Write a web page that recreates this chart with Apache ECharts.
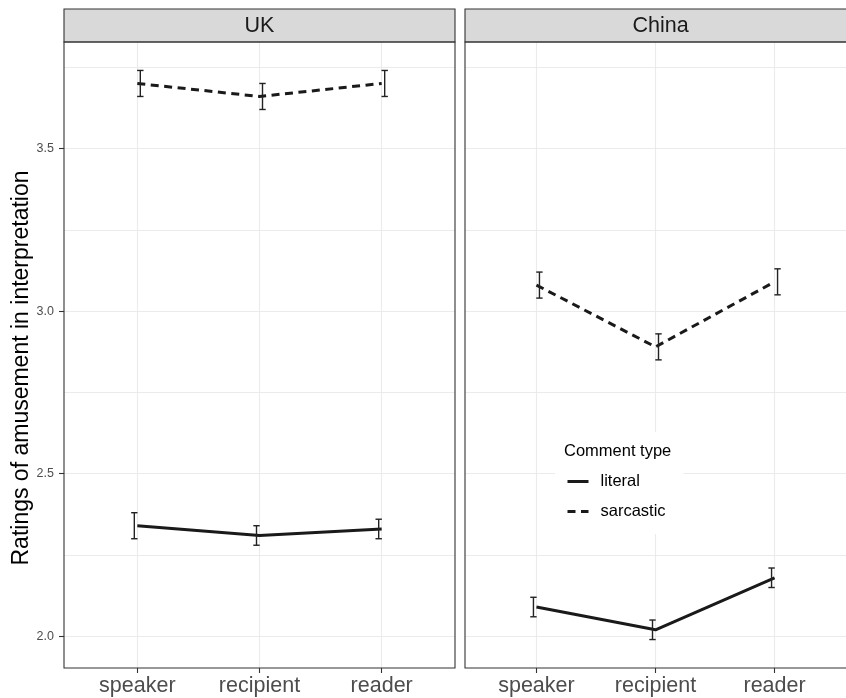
<!DOCTYPE html>
<html>
<head>
<meta charset="utf-8">
<title>Ratings of amusement in interpretation</title>
<script src="https://cdn.jsdelivr.net/npm/echarts@6/dist/echarts.min.js"></script>
<style>
  html, body { margin: 0; padding: 0; background: #fff; }
  #chart { width: 846px; height: 698px; }
</style>
</head>
<body>
<div id="chart"></div>
<script>
// Perspective categories shared by both panels
const categories = ['speaker', 'recipient', 'reader'];
const panels = ['UK', 'China'];

// Tick labels and grid lines on the rating scale
const yMajorTicks = [2.0, 2.5, 3.0, 3.5];
const yGridValues = [2.0, 2.25, 2.5, 2.75, 3.0, 3.25, 3.5, 3.75];

// UK: mean rating with lower / upper error bar limits
const ukLiteralMean = [2.34, 2.31, 2.33];
const ukLiteralLow = [2.30, 2.28, 2.30];
const ukLiteralHigh = [2.38, 2.34, 2.36];
const ukSarcasticMean = [3.70, 3.66, 3.70];
const ukSarcasticLow = [3.66, 3.62, 3.66];
const ukSarcasticHigh = [3.74, 3.70, 3.74];

// China: mean rating with lower / upper error bar limits
const chinaLiteralMean = [2.09, 2.02, 2.18];
const chinaLiteralLow = [2.06, 1.99, 2.15];
const chinaLiteralHigh = [2.12, 2.05, 2.21];
const chinaSarcasticMean = [3.08, 2.89, 3.09];
const chinaSarcasticLow = [3.04, 2.85, 3.05];
const chinaSarcasticHigh = [3.12, 2.93, 3.13];

const FONT = '"Liberation Sans", Arial, Helvetica, sans-serif';
const INK = '#1a1a1a';
const GRID_LINE = '#ebebeb';
const BORDER = '#333333';

// Panel geometry (pixels)
const PANEL_TOP = 42;
const PANEL_HEIGHT = 626;
const PANEL_WIDTH = 391;
const PANEL_LEFT = [64, 465];
const STRIP_TOP = 9;
const STRIP_HEIGHT = 33;

// y range: data extent padded by 5% on each side
const allLow = [].concat(ukLiteralLow, ukSarcasticLow, chinaLiteralLow, chinaSarcasticLow);
const allHigh = [].concat(ukLiteralHigh, ukSarcasticHigh, chinaLiteralHigh, chinaSarcasticHigh);
const dataMin = Math.min.apply(null, allLow);
const dataMax = Math.max.apply(null, allHigh);
const pad = (dataMax - dataMin) * 0.05;
const Y_MIN = dataMin - pad;
const Y_MAX = dataMax + pad;

// discrete x scale: positions 1..n, padded by 0.6 on each side
const X_MIN = 0.4;
const X_MAX = categories.length + 0.6;
const xPositions = categories.map((c, i) => i + 1);

function lineData(mean) {
  return mean.map((v, i) => [xPositions[i], v]);
}
function barData(low, high) {
  return low.map((v, i) => [xPositions[i], v, high[i]]);
}

// I-beam error bar, nudged sideways in pixels so the two comment types separate
function errorBarRenderer(nudge) {
  return function (params, api) {
    const x = api.value(0);
    const lo = api.coord([x, api.value(1)]);
    const hi = api.coord([x, api.value(2)]);
    const cx = lo[0] + nudge;
    const cap = 3.2;
    const style = { stroke: '#222', lineWidth: 1.4, fill: null };
    return {
      type: 'group',
      children: [
        { type: 'line', shape: { x1: cx, y1: lo[1], x2: cx, y2: hi[1] }, style: style },
        { type: 'line', shape: { x1: cx - cap, y1: lo[1], x2: cx + cap, y2: lo[1] }, style: style },
        { type: 'line', shape: { x1: cx - cap, y1: hi[1], x2: cx + cap, y2: hi[1] }, style: style }
      ]
    };
  };
}

const grids = PANEL_LEFT.map(left => ({
  left: left, top: PANEL_TOP, width: PANEL_WIDTH, height: PANEL_HEIGHT,
  containLabel: false
}));

const xAxes = PANEL_LEFT.map((left, gi) => ({
  type: 'value', gridIndex: gi, min: X_MIN, max: X_MAX,
  axisLine: { show: false },
  axisTick: {
    show: true, customValues: xPositions, length: 5, inside: false,
    lineStyle: { color: BORDER, width: 1.1 }
  },
  axisLabel: {
    show: true, customValues: xPositions, margin: 7,
    fontFamily: FONT, fontSize: 21.5, color: '#4d4d4d',
    formatter: v => categories[Math.round(v) - 1]
  },
  splitLine: { show: true, lineStyle: { color: GRID_LINE, width: 1.1 } }
}));

const yAxes = [
  // left panel: ticks, labels and axis title
  {
    type: 'value', gridIndex: 0, min: Y_MIN, max: Y_MAX,
    axisLine: { show: false },
    axisTick: { show: true, customValues: yMajorTicks, length: 5, lineStyle: { color: BORDER, width: 1.1 } },
    axisLabel: {
      show: true, customValues: yMajorTicks, margin: 10,
      fontFamily: FONT, fontSize: 12.5, color: '#4d4d4d',
      formatter: v => v.toFixed(1)
    },
    splitLine: { show: false },
    name: 'Ratings of amusement in interpretation',
    nameLocation: 'middle', nameGap: 30,
    nameTextStyle: { fontFamily: FONT, fontSize: 23, color: '#000', padding: [0, 26, 0, 0] }
  },
  // left panel: grid lines
  {
    type: 'value', gridIndex: 0, min: Y_MIN, max: Y_MAX,
    axisLine: { show: false },
    axisTick: { show: false, customValues: yGridValues },
    axisLabel: { show: false },
    splitLine: { show: true, lineStyle: { color: GRID_LINE, width: 1.1 } }
  },
  // right panel: grid lines only
  {
    type: 'value', gridIndex: 1, min: Y_MIN, max: Y_MAX,
    axisLine: { show: false },
    axisTick: { show: false, customValues: yGridValues },
    axisLabel: { show: false },
    splitLine: { show: true, lineStyle: { color: GRID_LINE, width: 1.1 } }
  }
];

const DASH = [8, 5.5];
function lineSeries(name, gi, yi, mean, dashed) {
  return {
    type: 'line', name: name, xAxisIndex: gi, yAxisIndex: yi,
    data: lineData(mean), symbol: 'none', silent: true, z: 3,
    lineStyle: { color: INK, width: 3, type: dashed ? DASH : 'solid', cap: 'butt', join: 'round' },
    itemStyle: { color: INK },
    animation: false
  };
}
function barSeries(gi, yi, low, high, nudge) {
  return {
    type: 'custom', xAxisIndex: gi, yAxisIndex: yi,
    data: barData(low, high), renderItem: errorBarRenderer(nudge),
    encode: { x: 0, y: [1, 2] }, silent: true, z: 4, animation: false
  };
}

const series = [
  lineSeries('literal', 0, 0, ukLiteralMean, false),
  lineSeries('sarcastic', 0, 0, ukSarcasticMean, true),
  lineSeries('literal', 1, 2, chinaLiteralMean, false),
  lineSeries('sarcastic', 1, 2, chinaSarcasticMean, true),
  barSeries(0, 0, ukLiteralLow, ukLiteralHigh, -3),
  barSeries(0, 0, ukSarcasticLow, ukSarcasticHigh, 3),
  barSeries(1, 2, chinaLiteralLow, chinaLiteralHigh, -3),
  barSeries(1, 2, chinaSarcasticLow, chinaSarcasticHigh, 3)
];

// facet strips and panel frames
const graphics = [];
PANEL_LEFT.forEach((left, i) => {
  graphics.push({
    type: 'rect', z: 50,
    shape: { x: left, y: STRIP_TOP, width: PANEL_WIDTH, height: STRIP_HEIGHT },
    style: { fill: '#d9d9d9', stroke: BORDER, lineWidth: 1.1 }
  });
  graphics.push({
    type: 'text', z: 51,
    x: left + PANEL_WIDTH / 2, y: STRIP_TOP + STRIP_HEIGHT / 2 + 1,
    style: {
      text: panels[i], fontFamily: FONT, fontSize: 21.5, fill: INK,
      align: 'center', verticalAlign: 'middle'
    }
  });
  graphics.push({
    type: 'rect', z: 50,
    shape: { x: left, y: PANEL_TOP, width: PANEL_WIDTH, height: PANEL_HEIGHT },
    style: { fill: null, stroke: BORDER, lineWidth: 1.1 }
  });
});

const option = {
  backgroundColor: '#fff',
  animation: false,
  textStyle: { fontFamily: FONT },
  grid: grids,
  xAxis: xAxes,
  yAxis: yAxes,
  series: series,
  title: {
    text: 'Comment type', left: 564, top: 441, padding: 0,
    textStyle: { fontFamily: FONT, fontSize: 16.5, fontWeight: 'normal', color: '#000', lineHeight: 20 }
  },
  legend: {
    data: ['literal', 'sarcastic'],
    orient: 'vertical', left: 555, top: 432,
    backgroundColor: '#fff',
    padding: [41, 18, 14, 11],
    itemWidth: 21, itemHeight: 14, itemGap: 13,
    selectedMode: false,
    itemStyle: { opacity: 0, borderWidth: 0 },
    lineStyle: { width: 3 },
    textStyle: { fontFamily: FONT, fontSize: 16.5, color: '#000', padding: [0, 0, 0, 7] }
  },
  graphic: graphics
};

const chart = echarts.init(document.getElementById('chart'), null, { renderer: 'canvas' });
chart.setOption(option);
</script>
</body>
</html>
